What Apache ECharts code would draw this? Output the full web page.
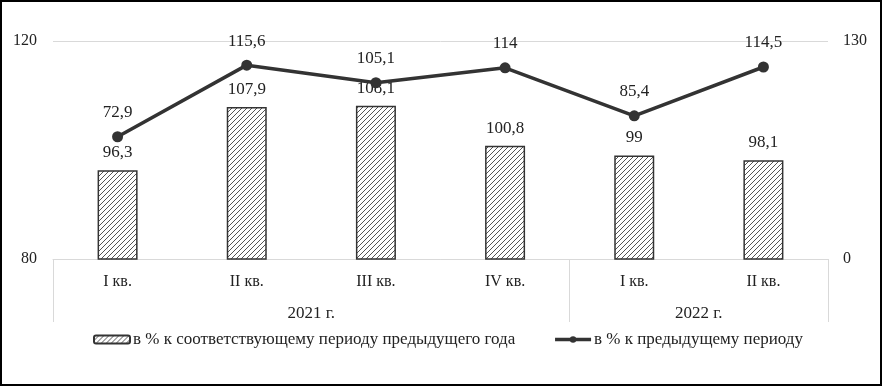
<!DOCTYPE html>
<html>
<head>
<meta charset="utf-8">
<script src="https://cdn.jsdelivr.net/npm/echarts@6/dist/echarts.min.js"></script>
<style>
  html, body { margin: 0; padding: 0; background: #fff; }
  #chart { width: 883px; height: 387px; }
</style>
</head>
<body>
<div id="chart"></div>
<script>
const quarters = ["I кв.", "II кв.", "III кв.", "IV кв.", "I кв.", "II кв."];
const years = ["2021 г.", "2022 г."];
const yearSpans = [4, 2];
const sameQuarterPct = [96.3, 107.9, 108.1, 100.8, 99, 98.1];
const prevPeriodPct = [72.9, 115.6, 105.1, 114, 85.4, 114.5];
const leftTicks = [80, 120];
const rightTicks = [0, 130];

const seriesNames = [
  "в % к соответствующему периоду предыдущего года",
  "в % к предыдущему периоду",
];

// year group boundaries and centres on a 0..6 value scale
const yearEdges = [0];
const yearCentres = [];
yearSpans.forEach((n) => {
  const start = yearEdges[yearEdges.length - 1];
  yearCentres.push(start + n / 2);
  yearEdges.push(start + n);
});

function hatch() {
  const c = document.createElement("canvas");
  const s = 5;
  c.width = s;
  c.height = s;
  const ctx = c.getContext("2d");
  ctx.fillStyle = "#fff";
  ctx.fillRect(0, 0, s, s);
  ctx.strokeStyle = "#555";
  ctx.lineWidth = 1;
  ctx.beginPath();
  ctx.moveTo(0, s);
  ctx.lineTo(s, 0);
  ctx.moveTo(-1, 1);
  ctx.lineTo(1, -1);
  ctx.moveTo(s - 1, s + 1);
  ctx.lineTo(s + 1, s - 1);
  ctx.stroke();
  return c;
}

const fmt = (v) => String(v).replace(".", ",");
const font = "Liberation Serif";

const chart = echarts.init(document.getElementById("chart"));

chart.setOption({
  animation: false,
  textStyle: { fontFamily: font, color: "#222" },
  graphic: [
    {
      type: "rect",
      shape: { x: 1, y: 1, width: 880, height: 384 },
      style: { fill: "none", stroke: "#000", lineWidth: 2 },
      silent: true,
    },
  ],
  grid: { left: 53, right: 55, top: 41, bottom: 128 },
  legend: {
    left: 88,
    top: 326,
    itemWidth: 36,
    itemHeight: 8,
    itemGap: 38,
    textStyle: { fontFamily: font, fontSize: 17, color: "#222", padding: [0, 0, 0, -2] },
    data: [
      { name: seriesNames[0] },
      { name: seriesNames[1], lineStyle: { width: 3.5, color: "#333" } },
    ],
  },
  xAxis: [
    {
      type: "category",
      data: quarters,
      axisLine: { lineStyle: { color: "#d9d9d9", width: 1 } },
      axisTick: { show: false },
      axisLabel: { color: "#222", fontSize: 16, margin: 15, fontFamily: font },
    },
    {
      type: "value",
      min: 0,
      max: yearEdges[yearEdges.length - 1],
      position: "bottom",
      axisLine: { show: false },
      splitLine: { show: false },
      axisTick: {
        show: true,
        customValues: yearEdges,
        length: 63,
        lineStyle: { color: "#d9d9d9", width: 1 },
      },
      axisLabel: {
        customValues: yearCentres,
        formatter: (v) => years[yearCentres.indexOf(v)] || "",
        color: "#222",
        fontSize: 17,
        margin: 46,
        fontFamily: font,
      },
    },
  ],
  yAxis: [
    {
      type: "value",
      min: leftTicks[0],
      max: leftTicks[1],
      interval: leftTicks[1] - leftTicks[0],
      axisLine: { show: false },
      axisTick: { show: false },
      axisLabel: { color: "#222", fontSize: 16, margin: 16, fontFamily: font },
      splitLine: { lineStyle: { color: "#d9d9d9", width: 1 } },
    },
    {
      type: "value",
      min: rightTicks[0],
      max: rightTicks[1],
      interval: rightTicks[1] - rightTicks[0],
      axisLine: { show: false },
      axisTick: { show: false },
      axisLabel: { color: "#222", fontSize: 16, margin: 15, fontFamily: font },
      splitLine: { show: false },
    },
  ],
  series: [
    {
      name: seriesNames[0],
      type: "bar",
      xAxisIndex: 0,
      yAxisIndex: 0,
      data: sameQuarterPct,
      barWidth: 40,
      itemStyle: {
        color: { image: hatch(), repeat: "repeat" },
        borderColor: "#333",
        borderWidth: 1.5,
      },
      label: {
        show: true,
        position: "top",
        distance: 9,
        formatter: (p) => fmt(p.value),
        color: "#222",
        fontSize: 17,
        fontFamily: font,
      },
    },
    {
      name: seriesNames[1],
      type: "line",
      xAxisIndex: 0,
      yAxisIndex: 1,
      data: prevPeriodPct,
      symbol: "circle",
      symbolSize: 11,
      lineStyle: { color: "#333", width: 3.5 },
      itemStyle: { color: "#333" },
      z: 5,
      label: {
        show: true,
        position: "top",
        distance: 10,
        formatter: (p) => fmt(p.value),
        color: "#222",
        fontSize: 17,
        fontFamily: font,
      },
    },
  ],
});
</script>
</body>
</html>
